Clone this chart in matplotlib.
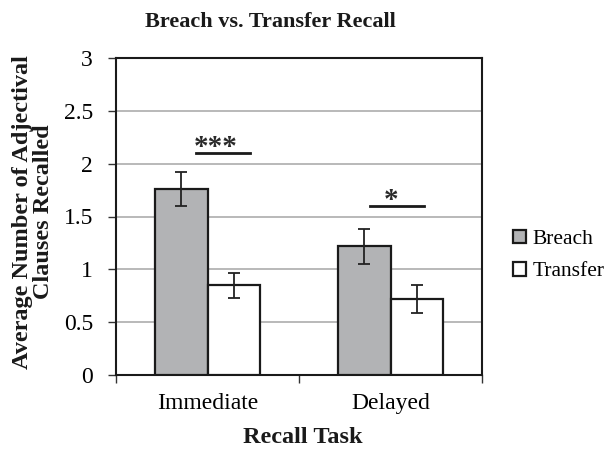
import matplotlib
matplotlib.use("Agg")
import matplotlib.pyplot as plt
import numpy as np

plt.rcParams["font.family"] = ["Liberation Serif", "DejaVu Serif"]

categories = ["Immediate", "Delayed"]
breach = [1.76, 1.22]
breach_err = [0.16, 0.165]
transfer = [0.85, 0.72]
transfer_err = [0.12, 0.13]
sig_labels = ["***", "*"]
sig_heights = [2.1, 1.6]

W, H = 611, 450
fig = plt.figure(figsize=(W / 100, H / 100), dpi=100)
ax = fig.add_axes([116 / W, 1 - 375 / H, 366 / W, 317 / H])

x = np.arange(len(categories))
w = 0.287
err_kw = dict(ecolor="#222222", elinewidth=1.3, capsize=4, capthick=1.3)
ax.bar(x - w / 2, breach, w, yerr=breach_err, color="#b2b3b5",
       edgecolor="#1a1a1a", linewidth=1.6, label="Breach", error_kw=err_kw, zorder=3)
ax.bar(x + w / 2, transfer, w, yerr=transfer_err, color="white",
       edgecolor="#1a1a1a", linewidth=1.6, label="Transfer", error_kw=err_kw, zorder=3)

# significance markers
line_spans = [(-0.064, 0.232), (0.888, 1.185)]
text_x = [0.046, 1.003]
for (x0, x1), tx, h, lab in zip(line_spans, text_x, sig_heights, sig_labels):
    ax.plot([x0, x1], [h, h], color="#1a1a1a", lw=2, zorder=4)
    ax.text(tx, h - 0.02, lab, ha="center", va="baseline", fontsize=21,
            fontweight="bold", color="#2a2a2a", zorder=4)

ax.set_xlim(-0.5, 1.5)
ax.set_ylim(0, 3)
ax.set_yticks(np.arange(0, 3.01, 0.5))
ax.set_yticklabels(["0", "0.5", "1", "1.5", "2", "2.5", "3"])
ax.set_xticks([-0.5, 0.5, 1.5])
ax.set_xticklabels(["", "", ""])
ax.set_xticks(x, minor=True)
ax.set_xticklabels(categories, minor=True)
ax.tick_params(axis="x", which="minor", length=0, labelsize=17, pad=13)
ax.tick_params(axis="x", which="major", direction="out", length=6, width=1, color="#333333")
ax.tick_params(axis="y", direction="out", length=5.5, width=1, color="#333333",
               labelsize=17, pad=11)
ax.yaxis.grid(True, color="#a6a6a6", lw=1.1, zorder=0)
ax.set_axisbelow(True)
for s in ax.spines.values():
    s.set_color("#1a1a1a")
    s.set_linewidth(1.5)

fig.text(270 / W, 1 - 26.7 / H, "Breach vs. Transfer Recall", ha="center",
         va="baseline", fontsize=16, fontweight="bold", color="#1a1a1a")
fig.text(303 / W, 1 - 443 / H, "Recall Task", ha="center", va="baseline",
         fontsize=17.5, fontweight="bold", color="#1a1a1a")
fig.text(33 / W, 1 - 212 / H, "Average Number of Adjectival\nClauses Recalled",
         ha="center", va="center", rotation=90, fontsize=17.5, fontweight="bold",
         linespacing=1.05, multialignment="center", color="#1a1a1a")

ax.legend(loc="center left", bbox_to_anchor=(513 / W, 1 - 255.5 / H),
          bbox_transform=fig.transFigure, frameon=False, fontsize=15.5,
          handlelength=0.6, handleheight=0.6, handletextpad=0.3,
          labelspacing=0.6, borderpad=0, borderaxespad=0)

fig.savefig("out.png", dpi=100)
